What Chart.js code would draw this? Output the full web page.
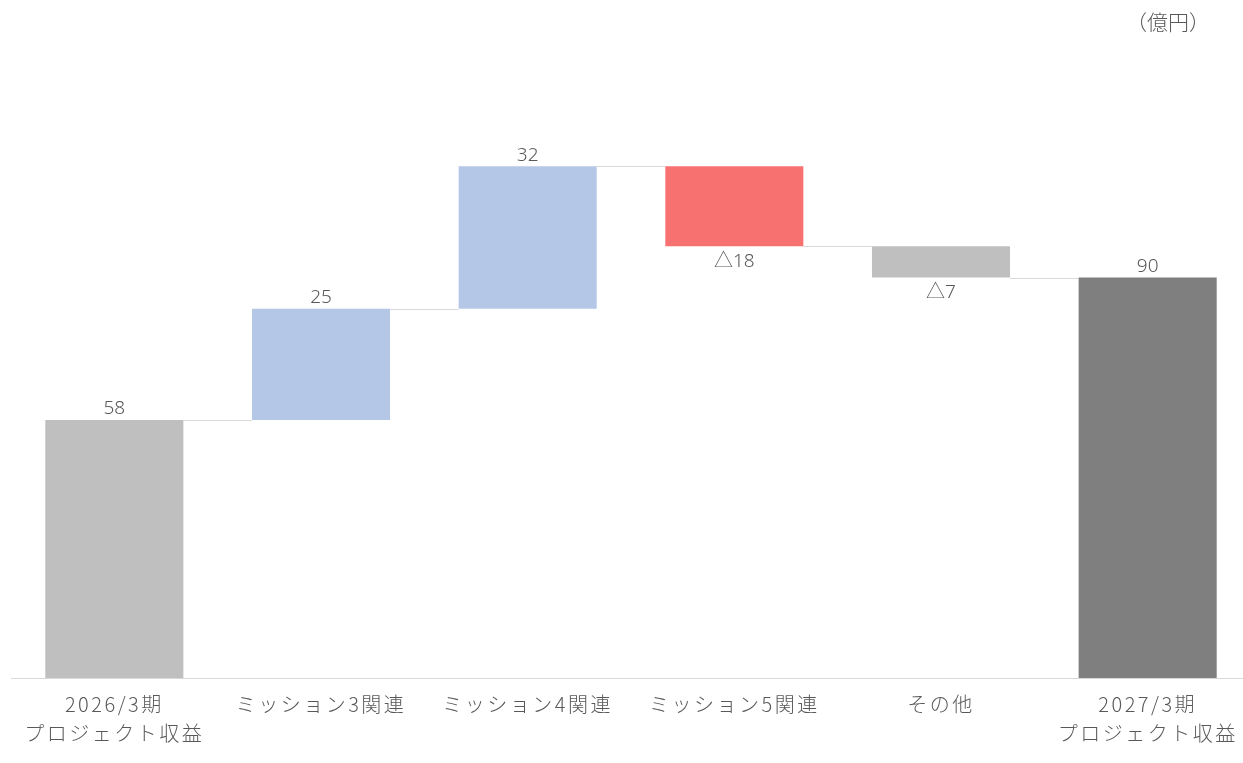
<!DOCTYPE html>
<html lang="ja">
<head>
<meta charset="utf-8">
<title>プロジェクト収益</title>
<script src="https://cdn.jsdelivr.net/npm/chart.js@4.4.1/dist/chart.umd.min.js"></script>
<style>
  html, body { margin: 0; padding: 0; background: #fff; overflow: hidden; }
  #wrap { width: 1243px; height: 763px; overflow: hidden; }
</style>
</head>
<body>
<div id="wrap"><canvas id="chart" width="1251" height="763"></canvas></div>
<script>
// data
const categories = [
    ['2026/3期', 'プロジェクト収益'],
    'ミッション3関連',
    'ミッション4関連',
    'ミッション5関連',
    'その他',
    ['2027/3期', 'プロジェクト収益']
];
const values = [58, 25, 32, -18, -7, 90];
const isTotal = [true, false, false, false, false, true];
const unitLabel = '（億円）';

const barColors = ['#BFBFBF', '#B4C7E7', '#B4C7E7', '#F87171', '#BFBFBF', '#7F7F7F'];
const textColor = '#595959';
const lineColor = '#D9D9D9';

// build floating ranges for the waterfall
const ranges = [];
let running = 0;
values.forEach((v, i) => {
    if (isTotal[i]) {
        ranges.push([0, v]);
        running = v;
    } else {
        ranges.push([running, running + v]);
        running += v;
    }
});

function labelFor(v) {
    return v < 0 ? '△' + Math.abs(v) : String(v);
}

const waterfallPlugin = {
    id: 'waterfall',
    beforeDraw(chart) {
        chart.ctx.letterSpacing = '2.5px';
    },
    beforeDatasetsDraw(chart) {
        const ctx = chart.ctx;
        ctx.letterSpacing = '0px';
        // connector lines between bars
        const bars = chart.getDatasetMeta(0).data;
        const y = chart.scales.y;
        ctx.save();
        ctx.strokeStyle = lineColor;
        ctx.lineWidth = 1;
        for (let i = 0; i < bars.length - 1; i++) {
            const py = Math.round(y.getPixelForValue(ranges[i][1])) + 0.5;
            const x1 = bars[i].x + bars[i].width / 2;
            const x2 = bars[i + 1].x - bars[i + 1].width / 2;
            ctx.beginPath();
            ctx.moveTo(x1, py);
            ctx.lineTo(x2, py);
            ctx.stroke();
        }
        ctx.restore();
    },
    afterDatasetsDraw(chart) {
        const ctx = chart.ctx;
        const bars = chart.getDatasetMeta(0).data;
        ctx.save();
        ctx.fillStyle = textColor;
        ctx.font = '300 19px "Noto Sans", "Noto Sans CJK JP", sans-serif';
        ctx.textAlign = 'center';
        ctx.textBaseline = 'middle';
        bars.forEach((bar, i) => {
            const top = Math.min(bar.y, bar.base);
            const bottom = Math.max(bar.y, bar.base);
            if (values[i] < 0) {
                ctx.fillText(labelFor(values[i]), bar.x, bottom + 15);
            } else {
                ctx.fillText(labelFor(values[i]), bar.x, top - 11);
            }
        });
        ctx.font = '300 21px "Noto Sans CJK JP", sans-serif';
        ctx.fillText(unitLabel, 1168, 22);
        ctx.restore();
    }
};

new Chart(document.getElementById('chart'), {
    type: 'bar',
    data: {
        labels: categories,
        datasets: [{
            data: ranges,
            backgroundColor: barColors,
            borderWidth: 0,
            barPercentage: 0.668,
            categoryPercentage: 1.0
        }]
    },
    options: {
        responsive: false,
        animation: false,
        devicePixelRatio: 1,
        layout: { padding: { top: 10.5, left: 11, right: 0, bottom: 0 } },
        plugins: {
            legend: { display: false },
            tooltip: { enabled: false }
        },
        scales: {
            x: {
                grid: { display: false },
                border: { display: true, color: lineColor, width: 1 },
                ticks: {
                    color: textColor,
                    font: { family: '"Noto Sans CJK JP", sans-serif', size: 20, weight: '300', lineHeight: 1.45 },
                    padding: 4,
                    maxRotation: 0,
                    autoSkip: false
                },
                afterFit: scale => { scale.height = 85; }
            },
            y: {
                display: false,
                min: 0,
                max: 150
            }
        }
    },
    plugins: [waterfallPlugin]
});
</script>
</body>
</html>
